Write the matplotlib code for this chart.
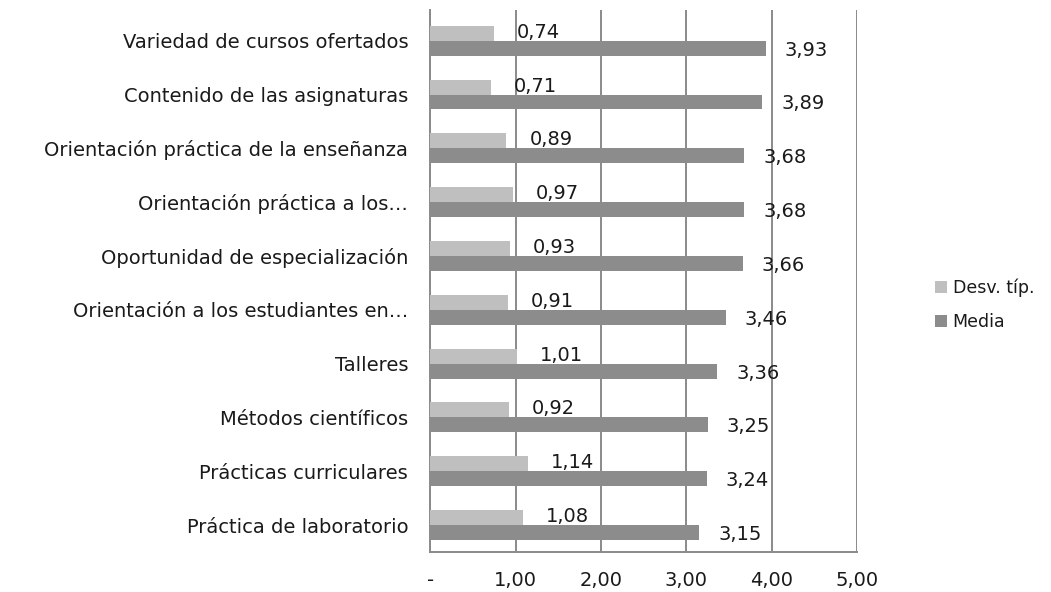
import matplotlib.pyplot as plt
import numpy as np

categorias = [
    "Variedad de cursos ofertados",
    "Contenido de las asignaturas",
    "Orientación práctica de la enseñanza",
    "Orientación práctica a los…",
    "Oportunidad de especialización",
    "Orientación a los estudiantes en…",
    "Talleres",
    "Métodos científicos",
    "Prácticas curriculares",
    "Práctica de laboratorio",
]
desv = [0.74, 0.71, 0.89, 0.97, 0.93, 0.91, 1.01, 0.92, 1.14, 1.08]
media = [3.93, 3.89, 3.68, 3.68, 3.66, 3.46, 3.36, 3.25, 3.24, 3.15]
xticks = [0, 1, 2, 3, 4, 5]
xtick_labels = ["-", "1,00", "2,00", "3,00", "4,00", "5,00"]

c_desv = "#bfbfbf"
c_media = "#8c8c8c"
c_grid = "#8a8a8a"
c_text = "#1a1a1a"

fig = plt.figure(figsize=(10.51, 5.92), dpi=100)
ax = fig.add_axes([0.4095, 0.0676, 0.406, 0.9155])

n = len(categorias)
y = np.arange(n)[::-1]
h = 0.278

b1 = ax.barh(y + h / 2, desv, height=h, color=c_desv, label="Desv. típ.", zorder=3)
b2 = ax.barh(y - h / 2, media, height=h, color=c_media, label="Media", zorder=3)

for yy, v in zip(y, desv):
    ax.annotate(f"{v:.2f}".replace(".", ","), (v, yy + h / 2), xytext=(23, 1),
                textcoords="offset pixels", va="center", ha="left",
                fontsize=14, color=c_text, zorder=4)
for yy, v in zip(y, media):
    ax.annotate(f"{v:.2f}".replace(".", ","), (v, yy - h / 2), xytext=(19, -2),
                textcoords="offset pixels", va="center", ha="left",
                fontsize=14, color=c_text, zorder=4)

ax.set_xlim(0, 5)
ax.set_ylim(-0.5, n - 0.43)
ax.set_xticks(xticks)
ax.set_xticklabels(xtick_labels)
ax.set_yticks(y)
ax.set_yticklabels(categorias)
ax.tick_params(axis="both", length=0, labelsize=14, colors=c_text)
ax.tick_params(axis="y", pad=16)
ax.tick_params(axis="x", pad=14)

ax.grid(axis="x", color=c_grid, linewidth=1.4, zorder=0)
for s in ["top", "right"]:
    ax.spines[s].set_visible(False)
for s in ["left", "bottom"]:
    ax.spines[s].set_color(c_grid)
    ax.spines[s].set_linewidth(1.4)

fig.legend(handles=[b1, b2], loc="center left", bbox_to_anchor=(0.875, 0.485),
           frameon=False, fontsize=12.5, handlelength=0.7, handleheight=0.7,
           handletextpad=0.3, labelspacing=0.9, labelcolor=c_text)

fig.savefig("out.png", dpi=100)
